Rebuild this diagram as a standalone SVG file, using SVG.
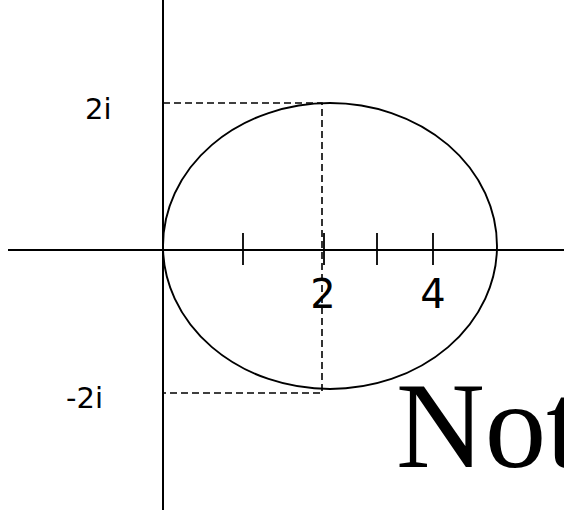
<svg xmlns="http://www.w3.org/2000/svg" width="564" height="510" viewBox="0 0 564 510">
<style>
.axis{stroke:#000;stroke-width:2;fill:none}
.tick{stroke:#000;stroke-width:1.8;fill:none}
.dash{stroke:#000;stroke-width:1.6;stroke-dasharray:7,4;fill:none}
.curve{stroke:#000;stroke-width:1.9;fill:none}
.lbl{font-family:"DejaVu Sans","Open Sans",sans-serif;fill:#000}
</style>
<rect width="564" height="510" fill="#fff"/>
<g id="connectors">
<line class="axis" x1="163" y1="0" x2="163" y2="510"/>
<line class="axis" x1="8" y1="250" x2="564" y2="250"/>
<line class="tick" x1="243" y1="233" x2="243" y2="265"/>
<line class="tick" x1="324" y1="233" x2="324" y2="265"/>
<line class="tick" x1="377" y1="233" x2="377" y2="265"/>
<line class="tick" x1="433" y1="233" x2="433" y2="265"/>
<polyline class="dash" points="163,103 322,103 322,393 163,393"/>
</g>
<g id="ellipse">
<ellipse class="curve" cx="330" cy="246" rx="167" ry="143"/>
</g>
<g id="labels">
<text class="lbl" x="85" y="119" font-size="29">2i</text>
<text class="lbl" x="66" y="408" font-size="29">-2i</text>
<text class="lbl" x="323" y="308" font-size="40" text-anchor="middle">2</text>
<text class="lbl" x="433" y="308" font-size="40" text-anchor="middle">4</text>
<text x="396" y="467" font-size="123" font-family="'Liberation Serif','Times New Roman',serif" fill="#000">Not</text>
</g>
</svg>
